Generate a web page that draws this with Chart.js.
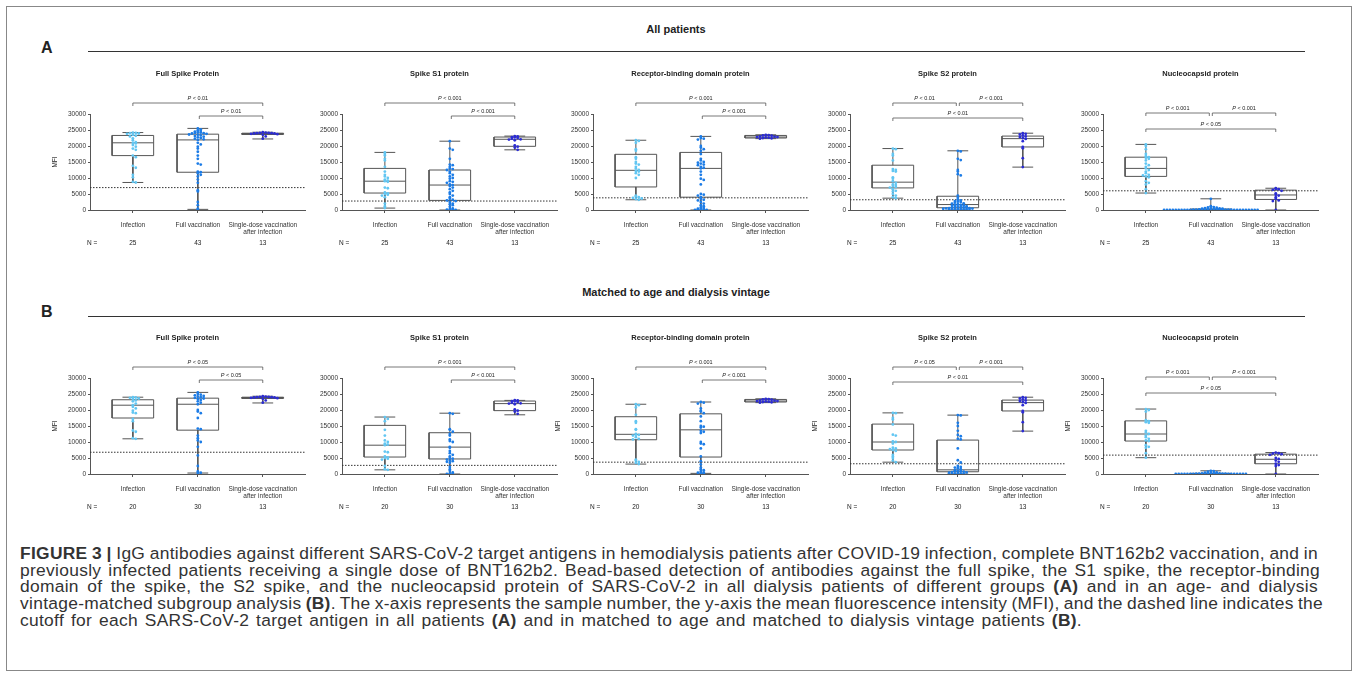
<!DOCTYPE html>
<html>
<head>
<meta charset="utf-8">
<script src="https://cdn.jsdelivr.net/npm/chart.js@4.4.0/dist/chart.umd.min.js"></script>
<style>
  body { margin: 0; background: #fff; font-family: "Liberation Sans", Arial, sans-serif; color: #222; }
  #page { position: relative; width: 1357px; height: 679px; overflow: hidden; }
  .frame { position: absolute; left: 6px; top: 6px; width: 1346px; height: 665px; border: 1px solid #888; box-sizing: border-box; }
  .head { position: absolute; font-weight: bold; font-size: 11px; transform: translate(-50%, -50%); white-space: nowrap; }
  .letter { position: absolute; font-weight: bold; font-size: 16px; transform: translateY(-50%); }
  .rule { position: absolute; height: 1px; background: #333; }
  canvas { position: absolute; }
  .caption { position: absolute; left: 20px; top: 545px; font-size: 17.4px; line-height: 16.7px; letter-spacing: 0.3px; color: #333; }
  .caption div { white-space: nowrap; }
  .caption span { display: inline-block; }
</style>
</head>
<body>
<div id="page">
  <div class="frame"></div>
  <div class="head" style="left:676px;top:29px">All patients</div>
  <div class="letter" style="left:41px;top:48px">A</div>
  <div class="rule" style="left:88px;top:51px;width:1217px"></div>
  <div class="head" style="left:676px;top:292px">Matched to age and dialysis vintage</div>
  <div class="letter" style="left:41px;top:312px">B</div>
  <div class="rule" style="left:88px;top:316px;width:1217px"></div>

  <canvas id="a0" width="275" height="200"></canvas>
  <canvas id="a1" width="275" height="200"></canvas>
  <canvas id="a2" width="275" height="200"></canvas>
  <canvas id="a3" width="275" height="200"></canvas>
  <canvas id="a4" width="275" height="200"></canvas>
  <canvas id="b0" width="275" height="200"></canvas>
  <canvas id="b1" width="275" height="200"></canvas>
  <canvas id="b2" width="275" height="200"></canvas>
  <canvas id="b3" width="275" height="200"></canvas>
  <canvas id="b4" width="275" height="200"></canvas>

  <div class="caption">
    <div data-w="1298"><span><b>FIGURE 3 |</b> IgG antibodies against different SARS-CoV-2 target antigens in hemodialysis patients after COVID-19 infection, complete BNT162b2 vaccination, and in</span></div>
    <div data-w="1300"><span>previously infected patients receiving a single dose of BNT162b2. Bead-based detection of antibodies against the full spike, the S1 spike, the receptor-binding</span></div>
    <div data-w="1298"><span>domain of the spike, the S2 spike, and the nucleocapsid protein of SARS-CoV-2 in all dialysis patients of different groups <b>(A)</b> and in an age- and dialysis</span></div>
    <div data-w="1303"><span>vintage-matched subgroup analysis <b>(B)</b>. The x-axis represents the sample number, the y-axis the mean fluorescence intensity (MFI), and the dashed line indicates the</span></div>
    <div data-w="1062"><span>cutoff for each SARS-CoV-2 target antigen in all patients <b>(A)</b> and in matched to age and matched to dialysis vintage patients <b>(B)</b>.</span></div>
  </div>
</div>

<script>
// groups and counts
const groups = ['Infection', 'Full vaccination', ['Single-dose vaccination', 'after infection']];
const nAll = [25, 43, 13];
const nMatched = [20, 30, 13];
const titlesA = ['Full Spike Protein', 'Spike S1 protein', 'Receptor-binding domain protein', 'Spike S2 protein', 'Nucleocapsid protein'];
const titlesB = ['Full Spike protein', 'Spike S1 protein', 'Receptor-binding domain protein', 'Spike S2 protein', 'Nucleocapsid protein'];
const yTicks = [0, 5000, 10000, 15000, 20000, 25000, 30000];
const cutoffA = [7000, 2800, 3800, 3200, 6000];
const cutoffB = [6800, 2700, 3700, 3200, 5900];

// box stats: [min, q1, median, q3, max] for infection / full vacc / single dose
const fullSpikeBoxA = [[8600, 17000, 21000, 23300, 24200], [200, 11800, 21900, 23700, 25500], [22200, 23600, 23900, 24000, 24300]];
const s1BoxA = [[600, 5300, 9000, 13000, 18000], [0, 3000, 7800, 12500, 21500], [18800, 19900, 22100, 22800, 23100]];
const rbdBoxA = [[3200, 7200, 12400, 17400, 21800], [0, 4000, 13000, 18000, 23000], [22300, 22500, 22800, 23300, 23500]];
const s2BoxA = [[3700, 6900, 8700, 14000, 19200], [0, 700, 1700, 4300, 18500], [13400, 19700, 22300, 23100, 24000]];
const ncBoxA = [[5300, 10500, 13000, 16500, 20500], [0, 0, 100, 300, 3500], [0, 3300, 4700, 6200, 6800]];

const fullSpikeBoxB = [[11000, 17500, 21500, 23200, 24000], [300, 13700, 21800, 23700, 25500], [22200, 23600, 23900, 24000, 24300]];
const s1BoxB = [[1300, 5300, 9000, 15200, 17800], [0, 4700, 8400, 12900, 19000], [18500, 19800, 22000, 22800, 23000]];
const rbdBoxB = [[3100, 10700, 12400, 17900, 21800], [200, 5300, 13800, 18800, 22500], [22300, 22500, 22800, 23300, 23500]];
const s2BoxB = [[3700, 7500, 10000, 15600, 19100], [0, 700, 1300, 10600, 18400], [13400, 19700, 22300, 23100, 24000]];
const ncBoxB = [[5100, 10300, 12500, 16600, 20300], [0, 0, 50, 200, 1000], [0, 3200, 4600, 6200, 6700]];

// individual MFI values, all patients
const fullSpikeInfA = [24200, 24100, 24000, 23900, 23800, 23500, 23200, 23000, 22400, 21800, 21200, 21000, 20800, 20300, 19800, 19200, 18800, 17000, 16500, 13800, 13200, 11000, 10200, 8800, 8600];
const fullSpikeVacA = [25500, 25200, 24900, 24700, 24500, 24300, 24200, 24100, 24000, 23900, 23800, 23600, 23500, 23300, 23100, 22900, 22700, 22500, 22300, 22100, 21900, 21000, 20500, 19800, 19200, 18200, 17000, 16000, 14500, 14200, 12000, 11800, 11500, 11000, 10500, 9500, 8500, 6200, 5800, 2500, 1500, 400, 200];
const fullSpikeOneA = [24300, 24200, 24100, 24100, 24000, 24000, 23900, 23900, 23800, 23700, 23500, 23000, 22300];

const s1InfA = [18000, 17500, 17000, 16000, 15500, 13500, 12000, 11000, 10500, 10000, 9500, 9200, 9000, 8800, 7000, 6800, 5500, 5200, 5000, 4800, 4500, 4000, 2000, 1200, 600];
const s1VacA = [21500, 19200, 18800, 16000, 14200, 14000, 13500, 13000, 12800, 12500, 12000, 11500, 11000, 10500, 10000, 9800, 9000, 8800, 8500, 8000, 7800, 7500, 7000, 6500, 6000, 5500, 5000, 4500, 4000, 3500, 3200, 3000, 2800, 2500, 2000, 1800, 1500, 1000, 500, 300, 200, 100, 0];
const s1OneA = [23100, 23000, 22800, 22700, 22500, 22300, 22100, 22000, 21800, 20200, 19800, 19500, 18800];

const rbdInfA = [21800, 21600, 21000, 19000, 18500, 16500, 16000, 15000, 14500, 14200, 13500, 13000, 12500, 12200, 12000, 11500, 11000, 10000, 4500, 4200, 4000, 3800, 3600, 3400, 3200];
const rbdVacA = [23000, 22500, 22300, 22000, 20000, 19500, 19000, 18500, 17500, 16000, 15500, 15000, 14800, 14500, 14200, 14000, 13500, 13200, 13000, 12000, 11000, 9800, 9400, 8000, 5000, 4800, 4500, 4000, 3500, 3200, 3000, 2500, 2000, 1500, 1200, 800, 600, 400, 300, 200, 100, 50, 0];
const rbdOneA = [23500, 23400, 23300, 23200, 23000, 22900, 22800, 22800, 22700, 22600, 22500, 22400, 22300];

const s2InfA = [19200, 19000, 17500, 17000, 15500, 12800, 12500, 12200, 12000, 10200, 9800, 9000, 8500, 8000, 7800, 7500, 7200, 7000, 6500, 6000, 5800, 5000, 4500, 4000, 3700];
const s2VacA = [18500, 18300, 16000, 15600, 12500, 12000, 11200, 10800, 4500, 3800, 3200, 3000, 2800, 2600, 2500, 2300, 2100, 2000, 1800, 1600, 1500, 1400, 1300, 1200, 1100, 1000, 900, 800, 700, 650, 600, 550, 500, 450, 400, 350, 300, 250, 200, 150, 100, 50, 0];
const s2OneA = [24000, 23800, 23600, 23300, 23000, 22800, 22500, 22200, 21500, 19700, 19300, 16200, 13400];

const ncInfA = [20500, 20000, 19000, 17500, 16800, 16500, 16300, 16000, 15500, 14500, 14000, 13500, 13000, 12500, 12000, 11500, 11000, 10800, 10500, 10200, 9000, 8500, 8000, 6500, 5300];
const ncVacA = [3500, 1200, 1000, 900, 800, 700, 600, 500, 450, 400, 350, 300, 300, 250, 250, 200, 200, 150, 150, 100, 100, 100, 80, 80, 60, 60, 50, 50, 40, 40, 30, 30, 20, 20, 10, 10, 5, 5, 0, 0, 0, 0, 0];
const ncOneA = [6800, 6600, 6500, 6300, 6000, 5200, 4800, 4500, 4000, 3500, 3000, 2800, 0];

// individual MFI values, matched subgroup
const fullSpikeInfB = [24000, 23900, 23800, 23600, 23400, 23000, 22700, 22000, 21500, 21000, 20500, 19800, 19200, 19000, 17200, 16500, 13600, 13200, 11200, 11000];
const fullSpikeVacB = [25500, 25000, 24800, 24600, 24400, 24200, 24000, 23800, 23600, 23400, 23100, 22700, 22300, 21800, 20000, 19500, 19000, 17500, 14200, 14000, 12000, 11200, 10500, 10000, 8500, 5800, 2500, 800, 400, 300];
const s1InfB = [17800, 17200, 16500, 13800, 12000, 10500, 10000, 9500, 9200, 9000, 7000, 6800, 5500, 5200, 5000, 4800, 4500, 2500, 1500, 1300];
const s1VacB = [19000, 18800, 14000, 13800, 13200, 12500, 12000, 10800, 10300, 10000, 8500, 8200, 7200, 6500, 6000, 5500, 5000, 4800, 4500, 4200, 4000, 3800, 3500, 2200, 1500, 1000, 500, 200, 100, 0];
const rbdInfB = [21800, 21500, 20800, 18500, 16500, 16000, 14000, 13800, 12500, 12300, 12200, 12000, 11500, 11000, 10800, 4500, 4200, 3800, 3500, 3100];
const rbdVacB = [22500, 22300, 22000, 20500, 19800, 19500, 19000, 18000, 16500, 15000, 14800, 14500, 13500, 13200, 12800, 10000, 9500, 9300, 8000, 5500, 4000, 3000, 2000, 1500, 1200, 800, 500, 400, 300, 200];
const s2InfB = [19100, 19000, 17500, 17000, 15500, 12300, 12000, 10200, 10000, 9500, 8200, 8000, 7800, 7500, 7200, 6000, 5500, 5000, 4200, 3700];
const s2VacB = [18400, 18300, 16000, 15000, 13500, 12200, 11800, 11000, 10800, 8000, 4300, 3600, 2500, 2200, 2000, 1800, 1500, 1200, 1000, 900, 800, 700, 600, 500, 400, 300, 200, 100, 50, 0];
const ncInfB = [20300, 20000, 19500, 16800, 16500, 16200, 16000, 13500, 13000, 12500, 12000, 11500, 11000, 10500, 10300, 9000, 8500, 8200, 6500, 5100];
const ncVacB = [1000, 900, 700, 500, 400, 350, 300, 250, 200, 200, 150, 150, 100, 100, 80, 80, 60, 50, 50, 40, 30, 20, 20, 10, 10, 5, 0, 0, 0, 0];
const ncOneB = [6700, 6500, 6400, 6200, 6000, 5000, 4700, 4200, 3800, 3200, 2800, 2500, 0];

// significance brackets: [from group, to group, p text, level]
const pFullSpikeA = [[1, 3, '< 0.01', 0], [2, 3, '< 0.01', 1]];
const pS1A = [[1, 3, '< 0.001', 0], [2, 3, '< 0.001', 1]];
const pRbdA = [[1, 3, '< 0.001', 0], [2, 3, '< 0.001', 1]];
const pS2A = [[1, 2, '< 0.01', 0], [2, 3, '< 0.001', 0], [1, 3, '< 0.01', 1]];
const pNcA = [[1, 2, '< 0.001', 0], [2, 3, '< 0.001', 0], [1, 3, '< 0.05', 1]];
const pFullSpikeB = [[1, 3, '< 0.05', 0], [2, 3, '< 0.05', 1]];
const pS1B = [[1, 3, '< 0.001', 0], [2, 3, '< 0.001', 1]];
const pRbdB = [[1, 3, '< 0.001', 0], [2, 3, '< 0.001', 1]];
const pS2B = [[1, 2, '< 0.05', 0], [2, 3, '< 0.001', 0], [1, 3, '< 0.01', 1]];
const pNcB = [[1, 2, '< 0.001', 0], [2, 3, '< 0.001', 0], [1, 3, '< 0.05', 1]];

// layout
const axisX = [90, 342, 593, 850, 1103];
const plotTop = [114, 378];
const colors = ['#62c6f2', '#1c7ce6', '#2c2cd4'];
const FONT = '"Liberation Sans", Arial, sans-serif';

// fit each caption line to the width it has in the figure
document.querySelectorAll('.caption div').forEach(d => {
  const span = d.querySelector('span');
  const spaces = (span.textContent.match(/ /g) || []).length;
  const extra = (+d.dataset.w - span.getBoundingClientRect().width) / spaces;
  span.style.wordSpacing = extra + 'px';
});

// spread overlapping points sideways (bee swarm)
function swarm(values, center) {
  const bins = {};
  return values.map(v => {
    const b = Math.round(v / 800);
    const k = bins[b] = (bins[b] || 0) + 1;
    const step = Math.floor(k / 2) * (k % 2 ? -1 : 1);
    return { x: center + step * 0.045, y: v };
  });
}

function boxPath(s, c) {
  const [mn, q1, md, q3, mx] = s, w = 0.32, cap = 0.16;
  const gap = { x: c, y: null };
  return [
    { x: c - w, y: q1 }, { x: c + w, y: q1 }, { x: c + w, y: q3 }, { x: c - w, y: q3 }, { x: c - w, y: q1 }, gap,
    { x: c - w, y: md }, { x: c + w, y: md }, gap,
    { x: c, y: q3 }, { x: c, y: mx }, gap, { x: c - cap, y: mx }, { x: c + cap, y: mx }, gap,
    { x: c, y: q1 }, { x: c, y: mn }, gap, { x: c - cap, y: mn }, { x: c + cap, y: mn }
  ];
}

const extras = {
  id: 'extras',
  afterDraw(chart, args, o) {
    const { ctx, chartArea: a, scales: { x } } = chart;
    ctx.save();
    ctx.fillStyle = '#222';
    ctx.textBaseline = 'middle';
    ctx.textAlign = 'center';
    ctx.font = 'bold 7.5px ' + FONT;
    ctx.fillText(o.title, (a.left + a.right) / 2 - 10, a.top - 40);

    if (o.mfi) {
      ctx.save();
      ctx.translate(a.left - 35, (a.top + a.bottom) / 2);
      ctx.rotate(-Math.PI / 2);
      ctx.font = '6.5px ' + FONT;
      ctx.fillText('MFI', 0, 0);
      ctx.restore();
    }

    // N row
    ctx.font = '6.5px ' + FONT;
    ctx.textAlign = 'left';
    ctx.fillText('N =', a.left - 3, a.bottom + 33);
    ctx.textAlign = 'center';
    o.n.forEach((v, i) => ctx.fillText(String(v), x.getPixelForValue(i + 1), a.bottom + 33));

    // brackets
    ctx.strokeStyle = '#555';
    ctx.lineWidth = 0.8;
    o.brackets.forEach(([f, t, txt, lvl]) => {
      const y = a.top + o.levels[lvl];
      const x1 = x.getPixelForValue(f) + (f === 2 ? 1.5 : 0);
      const x2 = x.getPixelForValue(t) - (t === 2 ? 1.5 : 0);
      ctx.beginPath();
      ctx.moveTo(x1, y + 3); ctx.lineTo(x1, y); ctx.lineTo(x2, y); ctx.lineTo(x2, y + 3);
      ctx.stroke();
      ctx.font = 'italic 5.5px ' + FONT;
      const wp = ctx.measureText('P').width;
      ctx.font = '5.5px ' + FONT;
      const wr = ctx.measureText(' ' + txt).width;
      const sx = (x1 + x2) / 2 - (wp + wr) / 2;
      ctx.textAlign = 'left';
      ctx.font = 'italic 5.5px ' + FONT;
      ctx.fillText('P', sx, y - 5);
      ctx.font = '5.5px ' + FONT;
      ctx.fillText(' ' + txt, sx + wp, y - 5);
      ctx.textAlign = 'center';
    });
    ctx.restore();
  }
};

function makeChart(id, row, col, title, boxes, pts, cutoff, n, brackets, levels, mfi) {
  const el = document.getElementById(id);
  el.style.left = (axisX[col] - 50) + 'px';
  el.style.top = (plotTop[row] - 54) + 'px';
  const xMin = 0.34, xMax = 3.65;
  const datasets = [];
  pts.forEach((vals, i) => datasets.push({
    type: 'scatter', data: swarm(vals, i + 1), order: 0,
    pointRadius: 1.4, pointBorderWidth: 0, backgroundColor: colors[i], borderColor: colors[i]
  }));
  boxes.forEach((s, i) => datasets.push({
    type: 'line', data: boxPath(s, i + 1), order: 1, spanGaps: false,
    borderColor: '#555', borderWidth: 1, pointRadius: 0, fill: false
  }));
  datasets.push({
    type: 'line', data: [{ x: xMin, y: cutoff }, { x: xMax, y: cutoff }], order: 2,
    borderColor: '#333', borderWidth: 1, borderDash: [1.5, 1.5], pointRadius: 0, fill: false
  });

  new Chart(el, {
    type: 'scatter',
    data: { datasets },
    options: {
      responsive: false, animation: false, devicePixelRatio: 1, events: [],
      layout: { padding: { top: 54, right: 10, left: 0, bottom: 0 } },
      plugins: { legend: { display: false }, tooltip: { enabled: false }, extras: { title, n, brackets, levels, mfi } },
      scales: {
        x: {
          type: 'linear', min: xMin, max: xMax,
          afterBuildTicks: ax => { ax.ticks = [1, 2, 3].map(v => ({ value: v })); },
          afterFit: ax => { ax.height = 50; },
          grid: { display: true, drawOnChartArea: false, tickLength: 3, color: '#555' },
          border: { color: '#555' },
          ticks: {
            autoSkip: false, maxRotation: 0, minRotation: 0, padding: 8, color: '#333',
            font: { size: 6.5, family: FONT, lineHeight: 1.15 },
            callback: v => groups[v - 1]
          }
        },
        y: {
          min: 0, max: 30000,
          afterBuildTicks: ax => { ax.ticks = yTicks.map(v => ({ value: v })); },
          afterFit: ax => { ax.width = 50; },
          grid: { display: true, drawOnChartArea: false, tickLength: 2, color: '#555' },
          border: { color: '#555' },
          ticks: { padding: 2, color: '#333', font: { size: 6.5, family: FONT }, callback: v => String(v) }
        }
      }
    },
    plugins: [extras]
  });
}

const twoLvl = [-11, 2];
const s2Lvl = [-11, 4];
const ncLvl = [-1, 15];

makeChart('a0', 0, 0, titlesA[0], fullSpikeBoxA, [fullSpikeInfA, fullSpikeVacA, fullSpikeOneA], cutoffA[0], nAll, pFullSpikeA, twoLvl, true);
makeChart('a1', 0, 1, titlesA[1], s1BoxA, [s1InfA, s1VacA, s1OneA], cutoffA[1], nAll, pS1A, twoLvl, false);
makeChart('a2', 0, 2, titlesA[2], rbdBoxA, [rbdInfA, rbdVacA, rbdOneA], cutoffA[2], nAll, pRbdA, twoLvl, false);
makeChart('a3', 0, 3, titlesA[3], s2BoxA, [s2InfA, s2VacA, s2OneA], cutoffA[3], nAll, pS2A, s2Lvl, false);
makeChart('a4', 0, 4, titlesA[4], ncBoxA, [ncInfA, ncVacA, ncOneA], cutoffA[4], nAll, pNcA, ncLvl, false);

makeChart('b0', 1, 0, titlesB[0], fullSpikeBoxB, [fullSpikeInfB, fullSpikeVacB, fullSpikeOneA], cutoffB[0], nMatched, pFullSpikeB, twoLvl, true);
makeChart('b1', 1, 1, titlesB[1], s1BoxB, [s1InfB, s1VacB, s1OneA], cutoffB[1], nMatched, pS1B, twoLvl, false);
makeChart('b2', 1, 2, titlesB[2], rbdBoxB, [rbdInfB, rbdVacB, rbdOneA], cutoffB[2], nMatched, pRbdB, twoLvl, true);
makeChart('b3', 1, 3, titlesB[3], s2BoxB, [s2InfB, s2VacB, s2OneA], cutoffB[3], nMatched, pS2B, s2Lvl, true);
makeChart('b4', 1, 4, titlesB[4], ncBoxB, [ncInfB, ncVacB, ncOneB], cutoffB[4], nMatched, pNcB, ncLvl, true);
</script>
</body>
</html>
